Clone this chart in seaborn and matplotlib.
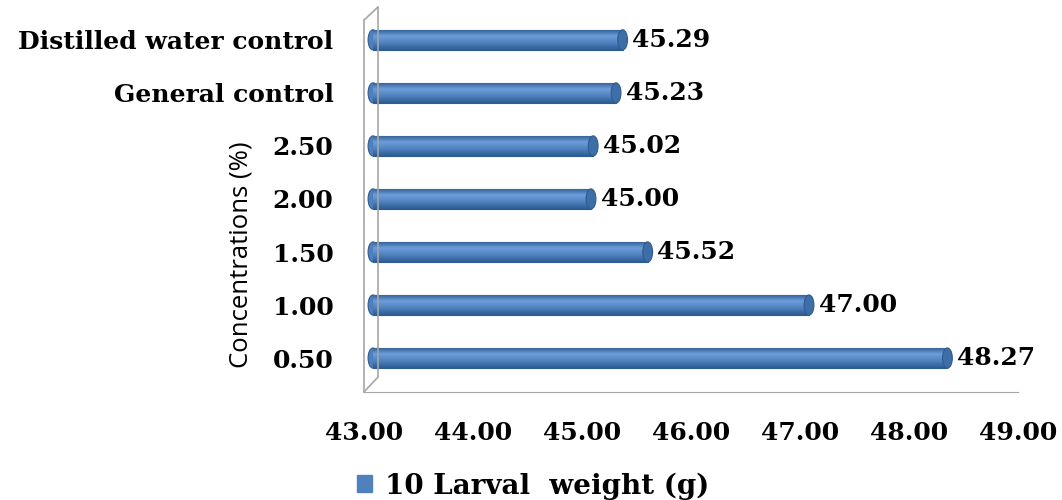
import matplotlib
matplotlib.use("Agg")

import numpy as np
import matplotlib.pyplot as plt
import matplotlib.transforms as mtransforms
from matplotlib.patches import Ellipse
from matplotlib.lines import Line2D
import seaborn as sns

# ── Data (top row first) ──────────────────────────────────────────────────────
concentrations = ["Distilled water control", "General control",
                  "2.50", "2.00", "1.50", "1.00", "0.50"]
larval_weight = [45.29, 45.23, 45.02, 45.00, 45.52, 47.00, 48.27]
x_ticks = [43, 44, 45, 46, 47, 48, 49]

BLUE = "#4F81BD"
BLUE_DARK = "#2E5C91"
BLUE_LIGHT = "#6D9EDB"
GREY = "#A6A6A6"
SERIF = "DejaVu Serif"
FS = 18

sns.set_style("white")
plt.rcParams["font.family"] = ["DejaVu Serif", "DejaVu Sans"]
plt.rcParams["text.color"] = "black"

fig = plt.figure(figsize=(10.62, 5.0), dpi=100)
ax = fig.add_axes([364 / 1062, 108 / 500, 654 / 1062, 385 / 500])

sns.barplot(x=larval_weight, y=concentrations, orient="h", color=BLUE,
            width=0.38, ax=ax, saturation=1, edgecolor=BLUE_DARK, linewidth=0.8)

# fake 3-D depth: shift bars to the right a little
depth = mtransforms.ScaledTranslation(9 / 100, 0, fig.dpi_scale_trans)

grad = np.linspace(0, 1, 64).reshape(-1, 1)
cmap = matplotlib.colors.LinearSegmentedColormap.from_list(
    "cyl", [BLUE_DARK, BLUE_LIGHT, BLUE, BLUE_DARK])

for patch in list(ax.patches):
    w = patch.get_width()
    # bars start at the axis origin, not at zero
    patch.set_x(x_ticks[0])
    patch.set_width(w - x_ticks[0])
    patch.set_transform(ax.transData + depth)
    x0, y0 = patch.get_x(), patch.get_y()
    h = patch.get_height()
    x_end = x0 + patch.get_width()
    # cylinder shading
    im = ax.imshow(grad, extent=(x0, x_end, y0 + h, y0), cmap=cmap,
                   aspect="auto", zorder=patch.get_zorder() + 0.1,
                   transform=ax.transData + depth)
    im.set_clip_path(patch)
    # rounded ends: plain at the back, outlined cap at the front
    for cx, fc, ec, zo in ((x0, BLUE, BLUE_DARK, -0.1),
                           (x_end, "#3E6EA8", BLUE_DARK, 0.2)):
        cap = Ellipse((cx, y0 + h / 2), 0.09, h, facecolor=fc,
                      edgecolor=ec, linewidth=0.8,
                      transform=ax.transData + depth,
                      zorder=patch.get_zorder() + zo)
        ax.add_patch(cap)
    ax.text(x_end + 0.17, y0 + h / 2, f"{x_end:.2f}", va="center", ha="left",
            fontsize=FS, fontweight="bold", family=SERIF, color="black")

ax.set_xlim(x_ticks[0], x_ticks[-1])
ax.set_ylim(len(concentrations) - 1 + 0.64, -0.62)
ax.set_xticks(x_ticks)
ax.set_xticklabels([f"{t:.2f}" for t in x_ticks], fontsize=FS,
                   fontweight="bold", family=SERIF, color="black")
ax.set_yticks(range(len(concentrations)))
ax.set_yticklabels(concentrations, fontsize=FS, fontweight="bold",
                   family=SERIF, color="black")
ax.tick_params(axis="y", length=0, pad=22)
ax.tick_params(axis="x", length=8, width=1, color=GREY, pad=13, direction="out")

for side in ["top", "right", "left"]:
    ax.spines[side].set_visible(False)
ax.spines["bottom"].set_color(GREY)

# front and back wall outline
dx = 14 / 654
wall = dict(color=GREY, lw=1.2, transform=ax.transAxes, clip_on=False)
ax.add_line(Line2D([0, 0], [0.0, 0.966], **wall))
ax.add_line(Line2D([dx, dx], [0.039, 1.0], **wall))
ax.add_line(Line2D([0, dx], [0.966, 1.0], **wall))
ax.add_line(Line2D([0, dx], [0.0, 0.039], **wall))

ax.set_ylabel("Concentrations (%)", fontsize=18.5, family="Open Sans",
              color="black")
ax.yaxis.set_label_coords(-0.169, 0.356)

handle = plt.Rectangle((0, 0), 1, 1, color=BLUE)
fig.legend([handle], ["10 Larval  weight (g)"], loc="center",
           bbox_to_anchor=(0.502, 0.028), frameon=False,
           prop={"family": SERIF, "weight": "bold", "size": 20},
           handlelength=0.55, handleheight=0.55, handletextpad=0.45,
           labelcolor="black")

fig.savefig("out.png", dpi=100)
